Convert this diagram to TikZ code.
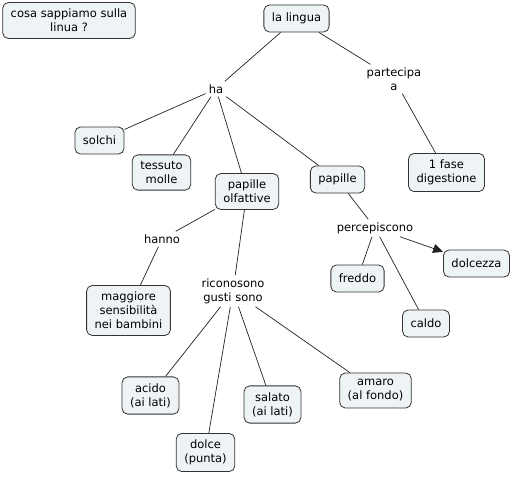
\documentclass[tikz,border=0pt]{standalone}
\usepackage{fontspec}
\setmainfont{DejaVu Sans}
\usetikzlibrary{arrows.meta}
\definecolor{boxfill}{HTML}{EEF3F5}
\definecolor{boxline}{HTML}{333333}
\definecolor{conn}{HTML}{222222}
\tikzset{
  concept/.style={draw=boxline, fill=boxfill, rounded corners=5.5pt, line width=0.8pt,
    align=center, inner xsep=8pt, inner ysep=6.5pt, minimum height=27pt,
    font=\fontsize{11.5}{14}\selectfont},
  linklabel/.style={align=center, inner sep=3pt, font=\fontsize{11.5}{14}\selectfont},
  conn/.style={draw=conn, line width=0.7pt},
}
\begin{document}
\begin{tikzpicture}[x=1pt,y=-1pt]
\useasboundingbox (0,0) rectangle (513,476);
\node[concept] (q) at (69,20.5) {cosa sappiamo sulla\\linua ?};
\node[concept] (lingua) at (296.5,18.5) {la lingua};
\node[linklabel] (ha) at (216,89) {ha};
\node[linklabel] (part) at (394,79) {partecipa\\a};
\node[concept] (solchi) at (99.5,140.5) {solchi};
\node[concept] (tessuto) at (161.5,172.5) {tessuto\\molle};
\node[concept] (olf) at (247,191.5) {papille\\olfattive};
\node[concept] (pap) at (337.5,179.5) {papille};
\node[concept] (fase) at (446.5,172.5) {1 fase\\digestione};
\node[linklabel] (perc) at (375,228) {percepiscono};
\node[concept] (dolcezza) at (476.5,263.5) {dolcezza};
\node[concept] (freddo) at (357.5,278.5) {freddo};
\node[concept] (caldo) at (426,323.5) {caldo};
\node[linklabel] (hanno) at (162,239) {hanno};
\node[concept] (magg) at (128.5,310.5) {maggiore\\sensibilità\\nei bambini};
\node[linklabel] (ric) at (233,291) {riconosono\\gusti sono};
\node[concept] (acido) at (150.5,395.5) {acido\\(ai lati)};
\node[concept] (salato) at (272.5,404.5) {salato\\(ai lati)};
\node[concept] (amaro) at (375.5,390.5) {amaro\\(al fondo)};
\node[concept] (dolce) at (205.5,452.5) {dolce\\(punta)};

\draw[conn] (lingua) -- (ha);
\draw[conn] (lingua) -- (part);
\draw[conn] (part) -- (fase);
\draw[conn] (ha) -- (solchi);
\draw[conn] (ha) -- (tessuto);
\draw[conn] (ha) -- (olf);
\draw[conn] (ha) -- (pap);
\draw[conn] (pap) -- (perc);
\draw[conn] (perc) -- (freddo);
\draw[conn] (perc) -- (caldo);
\draw[conn,-{Triangle[length=10pt,width=9pt]}] (perc) -- (dolcezza);
\draw[conn] (olf) -- (hanno);
\draw[conn] (hanno) -- (magg);
\draw[conn] (olf) -- (ric);
\draw[conn] (ric) -- (acido);
\draw[conn] (ric) -- (dolce);
\draw[conn] (ric) -- (salato);
\draw[conn] (ric) -- (amaro);
\end{tikzpicture}
\end{document}
